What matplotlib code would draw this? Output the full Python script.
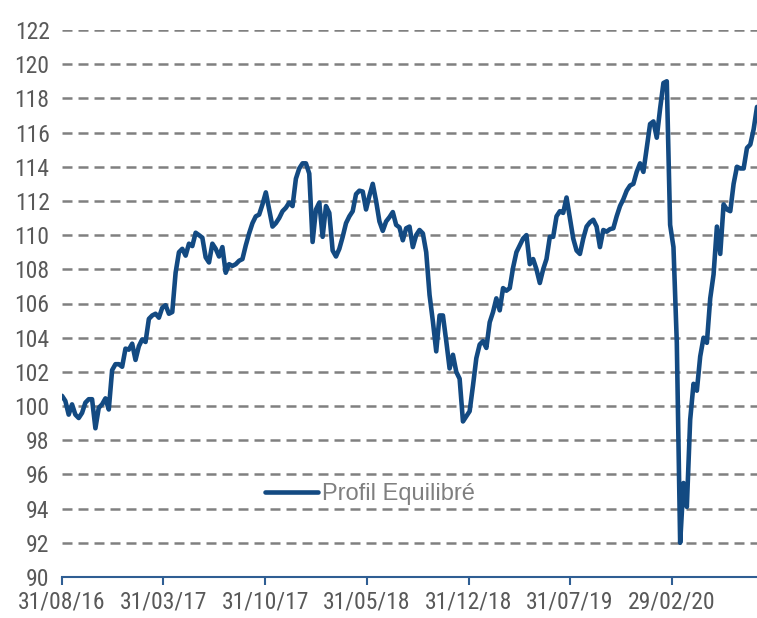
import matplotlib
matplotlib.use("Agg")
import matplotlib.pyplot as plt
import matplotlib.dates as mdates
import pandas as pd
from matplotlib import font_manager
from matplotlib.font_manager import FontProperties

# ---- data -------------------------------------------------------------
start_date = "2016-08-31"
series_name = "Profil Equilibré"
values = [
    100.6, 100.3, 99.5, 100.1, 99.5, 99.3, 99.6, 100.2, 100.4, 100.4,
    98.7, 99.9, 100.1, 100.45, 99.8, 102.1, 102.45, 102.45, 102.3, 103.36,
    103.3, 103.65, 102.7, 103.5, 103.9, 103.75, 105.1, 105.3, 105.4, 105.17,
    105.75, 105.9, 105.4, 105.5, 107.8, 109.0, 109.2, 108.8, 109.5, 109.36,
    110.14, 110.0, 109.85, 108.7, 108.4, 109.5, 109.2, 108.75, 109.3, 107.8,
    108.3, 108.2, 108.3, 108.5, 108.6, 109.4, 110.1, 110.7, 111.1, 111.2,
    111.8, 112.5, 111.5, 110.5, 110.7, 111.0, 111.4, 111.6, 111.9, 111.7,
    113.3, 113.9, 114.2, 114.2, 113.6, 109.6, 111.5, 111.9, 109.9, 111.7,
    111.3, 109.1, 108.75, 109.2, 109.9, 110.7, 111.1, 111.4, 112.4, 112.6,
    112.55, 111.5, 112.3, 113.0, 112.0, 110.8, 110.25, 110.8, 111.05, 111.35,
    110.6, 110.45, 109.7, 110.4, 110.5, 109.3, 110.0, 110.3, 110.1, 109.0,
    106.5, 104.95, 103.2, 105.3, 105.3, 103.8, 102.2, 103.0, 102.0, 101.6,
    99.1, 99.4, 99.7, 101.2, 102.8, 103.6, 103.8, 103.4, 104.9, 105.5,
    106.3, 105.6, 106.9, 106.75, 106.9, 108.1, 109.0, 109.4, 109.8, 110.0,
    108.3, 108.6, 108.0, 107.2, 108.0, 108.6, 109.9, 109.9, 111.1, 111.4,
    111.3, 112.2, 111.0, 109.8, 109.1, 108.9, 109.8, 110.5, 110.75, 110.9,
    110.5, 109.3, 110.3, 110.2, 110.35, 110.4, 111.1, 111.7, 112.1, 112.6,
    112.9, 113.0, 113.7, 114.2, 113.7, 115.1, 116.5, 116.65, 115.7, 117.4,
    118.9, 119.0, 110.6, 109.3, 103.7, 92.0, 95.5, 94.1, 99.2, 101.3,
    100.9, 102.9, 104.0, 103.7, 106.3, 107.7, 110.5, 108.9, 111.8, 111.5,
    111.4, 113.0, 114.0, 113.9, 113.9, 115.1, 115.3, 116.2, 117.5,
]
tick_dates = ["2016-08-31", "2017-03-31", "2017-10-31", "2018-05-31",
              "2018-12-31", "2019-07-31", "2020-02-29"]
y_ticks = list(range(90, 123, 2))

dates = pd.date_range(start_date, periods=len(values), freq="7D")

# ---- fonts ------------------------------------------------------------
def find_narrow():
    prefs = ["Liberation Sans Narrow", "Roboto Condensed", "Open Sans Condensed",
             "Noto Sans", "DejaVu Sans", "Roboto", "Open Sans", "Inter", "Lato"]
    cands = []
    for f in font_manager.fontManager.ttflist:
        name_l = (f.name + " " + f.fname).lower()
        is_narrow = ("narrow" in name_l or "condensed" in name_l
                     or f.stretch in ("condensed", "semi-condensed"))
        if not is_narrow:
            continue
        if f.style != "normal":
            continue
        if f.weight not in (400, "normal", "regular"):
            continue
        if "semi" in name_l or "extra" in name_l or "ultra" in name_l:
            continue
        rank = len(prefs)
        for i, p in enumerate(prefs):
            if f.name.startswith(p):
                rank = i
                break
        cands.append((rank, f.fname))
    if cands:
        cands.sort()
        return FontProperties(fname=cands[0][1]), True
    return FontProperties(family="Liberation Sans"), False

tick_fp, is_narrow = find_narrow()
tick_size = 17 if is_narrow else 14
tick_fp.set_size(tick_size)

# ---- figure -----------------------------------------------------------
fig = plt.figure(figsize=(7.57, 6.18), dpi=100)
ax = fig.add_axes([62 / 757, 41 / 618, 695 / 757, 547 / 618])

line_color = "#134A82"
ax.plot(dates, values, color=line_color, lw=3.3, solid_joinstyle="round",
        solid_capstyle="round", label=series_name, zorder=3)

ax.set_ylim(90, 122)
ax.set_xlim(dates[0], dates[-1])
ax.set_yticks(y_ticks)

for v in y_ticks[1:]:
    ax.axhline(v, color="#808080", lw=1.8, dashes=(4, 2.4), zorder=1)

ax.set_xticks(pd.to_datetime(tick_dates))
ax.xaxis.set_major_formatter(mdates.DateFormatter("%d/%m/%y"))

for s in ["left", "right", "top"]:
    ax.spines[s].set_visible(False)
ax.spines["bottom"].set_color("#2F5E93")
ax.spines["bottom"].set_linewidth(1.5)
ax.spines["bottom"].set_zorder(4)

ax.tick_params(axis="y", length=0, pad=9, labelcolor="#595959")
ax.tick_params(axis="x", length=6, width=1.5, color="#2F5E93", pad=4,
               labelcolor="#595959", direction="out")
for lab in ax.get_xticklabels() + ax.get_yticklabels():
    lab.set_fontproperties(tick_fp)

leg = ax.legend(loc="center left", bbox_to_anchor=(0.292, 0.152), frameon=False,
                borderpad=0, borderaxespad=0, handlelength=2.25,
                handletextpad=0.15, prop={"family": "Liberation Sans", "size": 17})
for t in leg.get_texts():
    t.set_color("#7F7F7F")
for h in leg.legend_handles:
    h.set_linewidth(3.3)

fig.savefig("out.png", dpi=100)
